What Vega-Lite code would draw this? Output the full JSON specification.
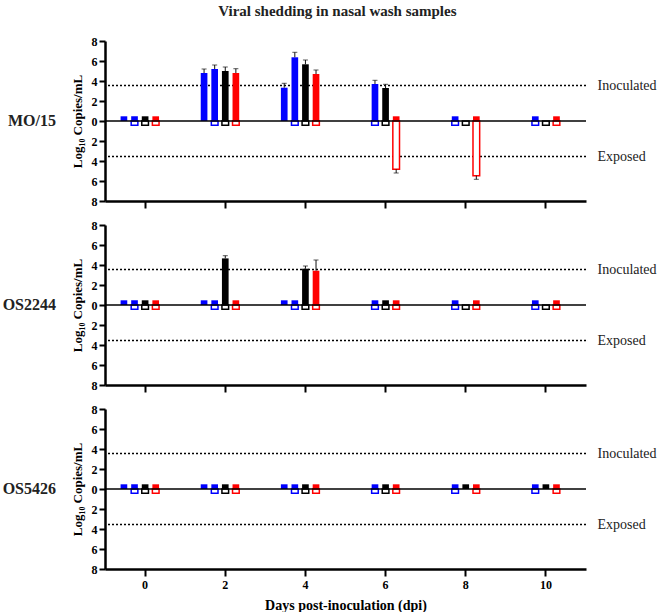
{
  "$schema": "https://vega.github.io/schema/vega-lite/v6.json",
  "padding": {"left": 2, "top": 4, "right": 0, "bottom": 0},
  "title": {"text": "Viral shedding in nasal wash samples", "font": "Liberation Serif", "fontSize": 15, "fontWeight": "bold", "anchor": "middle", "offset": 16, "dx": 8, "color": "#222"},
  "config": {
    "font": "Liberation Serif",
    "view": {"stroke": null},
    "axis": {"domainColor": "black", "domainWidth": 2.5, "tickColor": "black", "tickWidth": 2, "labelColor": "black", "labelFont": "Liberation Serif", "labelFontWeight": "bold", "labelFontSize": 12, "titleFont": "Liberation Serif", "titleFontWeight": "bold", "titleColor": "black", "grid": false},
    "title": {"font": "Liberation Serif"}
  },
  "spacing": 10,
  "datasets": {
    "d": [
      {"p":"MO/15","d":0,"s":"B1","t":"I","v":0.47},
      {"p":"MO/15","d":0,"s":"B2","t":"I","v":0.47},
      {"p":"MO/15","d":0,"s":"B2","t":"E","v":-0.42},
      {"p":"MO/15","d":0,"s":"K","t":"I","v":0.47},
      {"p":"MO/15","d":0,"s":"K","t":"E","v":-0.42},
      {"p":"MO/15","d":0,"s":"R","t":"I","v":0.47},
      {"p":"MO/15","d":0,"s":"R","t":"E","v":-0.42},
      {"p":"MO/15","d":2,"s":"B1","t":"I","v":4.8,"e":5.2},
      {"p":"MO/15","d":2,"s":"B2","t":"I","v":5.2,"e":5.6},
      {"p":"MO/15","d":2,"s":"B2","t":"E","v":-0.42},
      {"p":"MO/15","d":2,"s":"K","t":"I","v":5.0,"e":5.4},
      {"p":"MO/15","d":2,"s":"K","t":"E","v":-0.42},
      {"p":"MO/15","d":2,"s":"R","t":"I","v":4.8,"e":5.23},
      {"p":"MO/15","d":2,"s":"R","t":"E","v":-0.42},
      {"p":"MO/15","d":4,"s":"B1","t":"I","v":3.33,"e":3.77},
      {"p":"MO/15","d":4,"s":"B2","t":"I","v":6.37,"e":6.87},
      {"p":"MO/15","d":4,"s":"B2","t":"E","v":-0.42},
      {"p":"MO/15","d":4,"s":"K","t":"I","v":5.67,"e":6.1},
      {"p":"MO/15","d":4,"s":"K","t":"E","v":-0.42},
      {"p":"MO/15","d":4,"s":"R","t":"I","v":4.7,"e":5.1},
      {"p":"MO/15","d":4,"s":"R","t":"E","v":-0.42},
      {"p":"MO/15","d":6,"s":"B2","t":"I","v":3.7,"e":4.07},
      {"p":"MO/15","d":6,"s":"B2","t":"E","v":-0.42},
      {"p":"MO/15","d":6,"s":"K","t":"I","v":3.3,"e":3.67},
      {"p":"MO/15","d":6,"s":"K","t":"E","v":-0.42},
      {"p":"MO/15","d":6,"s":"R","t":"I","v":0.47},
      {"p":"MO/15","d":6,"s":"R","t":"E","v":-4.83,"e":-5.2},
      {"p":"MO/15","d":8,"s":"B2","t":"I","v":0.47},
      {"p":"MO/15","d":8,"s":"B2","t":"E","v":-0.42},
      {"p":"MO/15","d":8,"s":"K","t":"E","v":-0.42},
      {"p":"MO/15","d":8,"s":"R","t":"I","v":0.47},
      {"p":"MO/15","d":8,"s":"R","t":"E","v":-5.47,"e":-5.83},
      {"p":"MO/15","d":10,"s":"B2","t":"I","v":0.47},
      {"p":"MO/15","d":10,"s":"B2","t":"E","v":-0.42},
      {"p":"MO/15","d":10,"s":"K","t":"E","v":-0.42},
      {"p":"MO/15","d":10,"s":"R","t":"I","v":0.47},
      {"p":"MO/15","d":10,"s":"R","t":"E","v":-0.42},

      {"p":"OS2244","d":0,"s":"B1","t":"I","v":0.47},
      {"p":"OS2244","d":0,"s":"B2","t":"I","v":0.47},
      {"p":"OS2244","d":0,"s":"B2","t":"E","v":-0.42},
      {"p":"OS2244","d":0,"s":"K","t":"I","v":0.47},
      {"p":"OS2244","d":0,"s":"K","t":"E","v":-0.42},
      {"p":"OS2244","d":0,"s":"R","t":"I","v":0.47},
      {"p":"OS2244","d":0,"s":"R","t":"E","v":-0.42},
      {"p":"OS2244","d":2,"s":"B1","t":"I","v":0.47},
      {"p":"OS2244","d":2,"s":"B2","t":"I","v":0.47},
      {"p":"OS2244","d":2,"s":"B2","t":"E","v":-0.42},
      {"p":"OS2244","d":2,"s":"K","t":"I","v":4.66,"e":4.93},
      {"p":"OS2244","d":2,"s":"K","t":"E","v":-0.42},
      {"p":"OS2244","d":2,"s":"R","t":"I","v":0.47},
      {"p":"OS2244","d":2,"s":"R","t":"E","v":-0.42},
      {"p":"OS2244","d":4,"s":"B1","t":"I","v":0.47},
      {"p":"OS2244","d":4,"s":"B2","t":"I","v":0.47},
      {"p":"OS2244","d":4,"s":"B2","t":"E","v":-0.42},
      {"p":"OS2244","d":4,"s":"K","t":"I","v":3.63,"e":3.9},
      {"p":"OS2244","d":4,"s":"K","t":"E","v":-0.42},
      {"p":"OS2244","d":4,"s":"R","t":"I","v":3.43,"e":4.5},
      {"p":"OS2244","d":4,"s":"R","t":"E","v":-0.42},
      {"p":"OS2244","d":6,"s":"B2","t":"I","v":0.47},
      {"p":"OS2244","d":6,"s":"B2","t":"E","v":-0.42},
      {"p":"OS2244","d":6,"s":"K","t":"I","v":0.47},
      {"p":"OS2244","d":6,"s":"K","t":"E","v":-0.42},
      {"p":"OS2244","d":6,"s":"R","t":"I","v":0.47},
      {"p":"OS2244","d":6,"s":"R","t":"E","v":-0.42},
      {"p":"OS2244","d":8,"s":"B2","t":"I","v":0.47},
      {"p":"OS2244","d":8,"s":"B2","t":"E","v":-0.42},
      {"p":"OS2244","d":8,"s":"K","t":"E","v":-0.42},
      {"p":"OS2244","d":8,"s":"R","t":"I","v":0.47},
      {"p":"OS2244","d":8,"s":"R","t":"E","v":-0.42},
      {"p":"OS2244","d":10,"s":"B2","t":"I","v":0.47},
      {"p":"OS2244","d":10,"s":"B2","t":"E","v":-0.42},
      {"p":"OS2244","d":10,"s":"K","t":"E","v":-0.42},
      {"p":"OS2244","d":10,"s":"R","t":"I","v":0.47},
      {"p":"OS2244","d":10,"s":"R","t":"E","v":-0.42},

      {"p":"OS5426","d":0,"s":"B1","t":"I","v":0.47},
      {"p":"OS5426","d":0,"s":"B2","t":"I","v":0.47},
      {"p":"OS5426","d":0,"s":"B2","t":"E","v":-0.42},
      {"p":"OS5426","d":0,"s":"K","t":"I","v":0.47},
      {"p":"OS5426","d":0,"s":"K","t":"E","v":-0.42},
      {"p":"OS5426","d":0,"s":"R","t":"I","v":0.47},
      {"p":"OS5426","d":0,"s":"R","t":"E","v":-0.42},
      {"p":"OS5426","d":2,"s":"B1","t":"I","v":0.47},
      {"p":"OS5426","d":2,"s":"B2","t":"I","v":0.47},
      {"p":"OS5426","d":2,"s":"B2","t":"E","v":-0.42},
      {"p":"OS5426","d":2,"s":"K","t":"I","v":0.47},
      {"p":"OS5426","d":2,"s":"K","t":"E","v":-0.42},
      {"p":"OS5426","d":2,"s":"R","t":"I","v":0.47},
      {"p":"OS5426","d":2,"s":"R","t":"E","v":-0.42},
      {"p":"OS5426","d":4,"s":"B1","t":"I","v":0.47},
      {"p":"OS5426","d":4,"s":"B2","t":"I","v":0.47},
      {"p":"OS5426","d":4,"s":"B2","t":"E","v":-0.42},
      {"p":"OS5426","d":4,"s":"K","t":"I","v":0.47},
      {"p":"OS5426","d":4,"s":"K","t":"E","v":-0.42},
      {"p":"OS5426","d":4,"s":"R","t":"I","v":0.47},
      {"p":"OS5426","d":4,"s":"R","t":"E","v":-0.42},
      {"p":"OS5426","d":6,"s":"B2","t":"I","v":0.47},
      {"p":"OS5426","d":6,"s":"B2","t":"E","v":-0.42},
      {"p":"OS5426","d":6,"s":"K","t":"I","v":0.47},
      {"p":"OS5426","d":6,"s":"K","t":"E","v":-0.42},
      {"p":"OS5426","d":6,"s":"R","t":"I","v":0.47},
      {"p":"OS5426","d":6,"s":"R","t":"E","v":-0.42},
      {"p":"OS5426","d":8,"s":"B2","t":"I","v":0.47},
      {"p":"OS5426","d":8,"s":"B2","t":"E","v":-0.42},
      {"p":"OS5426","d":8,"s":"K","t":"I","v":0.47},
      {"p":"OS5426","d":8,"s":"R","t":"I","v":0.47},
      {"p":"OS5426","d":8,"s":"R","t":"E","v":-0.42},
      {"p":"OS5426","d":10,"s":"B2","t":"I","v":0.47},
      {"p":"OS5426","d":10,"s":"B2","t":"E","v":-0.42},
      {"p":"OS5426","d":10,"s":"K","t":"I","v":0.47},
      {"p":"OS5426","d":10,"s":"R","t":"I","v":0.47},
      {"p":"OS5426","d":10,"s":"R","t":"E","v":-0.42}
    ],
    "refs": [{"r": 3.56}, {"r": -3.56}],
    "zero": [{"z": 0}]
  },
  "vconcat": [
    {
      "width": 481, "height": 160,
      "title": {"text": "MO/15", "orient": "left", "angle": 0, "align": "left", "baseline": "middle", "anchor": "middle", "fontSize": 16, "fontWeight": "bold", "offset": 15, "color": "#222"},
      "resolve": {"axis": {"y": "independent"}},
      "layer": [
        {
          "data": {"name": "refs"},
          "mark": {"type": "rule", "strokeDash": [2, 2], "strokeWidth": 1.5, "color": "black"},
          "encoding": {
            "y": {"field": "r", "type": "quantitative", "scale": {"domain": [-8, 8], "nice": false, "zero": false},
              "axis": {"orient": "right", "values": [3.56, -3.56], "labelExpr": "datum.value > 0 ? 'Inoculated' : 'Exposed'", "domain": false, "ticks": false, "title": null, "labelFontWeight": "normal", "labelFontSize": 14, "labelPadding": 11, "labelColor": "#222"}}
          }
        },
        {
          "data": {"name": "d"},
          "transform": [{"filter": "datum.p == 'MO/15' && datum.t == 'I'"}],
          "mark": {"type": "bar"},
          "encoding": {
            "x": {"field": "d", "type": "ordinal", "scale": {"domain": [0, 2, 4, 6, 8, 10], "paddingInner": 0.339, "paddingOuter": 0.17}, "axis": {"labelAngle": 0, "tickSize": 7, "labels": false, "title": null}},
            "xOffset": {"field": "s", "type": "nominal", "scale": {"domain": ["B1", "B2", "K", "R", "X"], "paddingInner": 0.37, "paddingOuter": 0.185}},
            "y": {"field": "v", "type": "quantitative", "scale": {"domain": [-8, 8], "nice": false},
              "axis": {"values": [-8, -6, -4, -2, 0, 2, 4, 6, 8], "labelExpr": "abs(datum.value)", "tickSize": 6, "title": "Log₁₀ Copies/mL", "titleFontSize": 13, "titlePadding": 7, "labelPadding": 2}},
            "color": {"field": "s", "type": "nominal", "scale": {"domain": ["B1", "B2", "K", "R"], "range": ["#0000ff", "#0000ff", "#000000", "#ff0000"]}, "legend": null}
          }
        },
        {
          "data": {"name": "d"},
          "transform": [{"filter": "datum.p == 'MO/15' && datum.t == 'E'"}],
          "mark": {"type": "bar", "fill": "white", "strokeWidth": 1.5},
          "encoding": {
            "x": {"field": "d", "type": "ordinal"},
            "xOffset": {"field": "s", "type": "nominal"},
            "y": {"field": "v", "type": "quantitative", "axis": null},
            "stroke": {"field": "s", "type": "nominal", "scale": {"domain": ["B1", "B2", "K", "R"], "range": ["#0000ff", "#0000ff", "#000000", "#ff0000"]}, "legend": null}
          }
        },
        {
          "data": {"name": "d"},
          "transform": [{"filter": "datum.p == 'MO/15' && isValid(datum.e)"}],
          "mark": {"type": "rule", "color": "#111", "strokeWidth": 1},
          "encoding": {
            "x": {"field": "d", "type": "ordinal"},
            "xOffset": {"field": "s", "type": "nominal"},
            "y": {"field": "v", "type": "quantitative", "axis": null},
            "y2": {"field": "e"}
          }
        },
        {
          "data": {"name": "d"},
          "transform": [{"filter": "datum.p == 'MO/15' && isValid(datum.e)"}],
          "mark": {"type": "tick", "color": "#111", "size": 5, "thickness": 1},
          "encoding": {
            "x": {"field": "d", "type": "ordinal"},
            "xOffset": {"field": "s", "type": "nominal"},
            "y": {"field": "e", "type": "quantitative", "axis": null}
          }
        },
        {
          "data": {"name": "zero"},
          "mark": {"type": "rule", "color": "black", "strokeWidth": 1.5},
          "encoding": {"y": {"field": "z", "type": "quantitative", "axis": null}}
        }
      ]
    },
    {
      "width": 481, "height": 160,
      "title": {"text": "OS2244", "orient": "left", "angle": 0, "align": "left", "baseline": "middle", "anchor": "middle", "fontSize": 16, "fontWeight": "bold", "offset": 15, "color": "#222"},
      "resolve": {"axis": {"y": "independent"}},
      "layer": [
        {
          "data": {"name": "refs"},
          "mark": {"type": "rule", "strokeDash": [2, 2], "strokeWidth": 1.5, "color": "black"},
          "encoding": {
            "y": {"field": "r", "type": "quantitative", "scale": {"domain": [-8, 8], "nice": false, "zero": false},
              "axis": {"orient": "right", "values": [3.56, -3.56], "labelExpr": "datum.value > 0 ? 'Inoculated' : 'Exposed'", "domain": false, "ticks": false, "title": null, "labelFontWeight": "normal", "labelFontSize": 14, "labelPadding": 11, "labelColor": "#222"}}
          }
        },
        {
          "data": {"name": "d"},
          "transform": [{"filter": "datum.p == 'OS2244' && datum.t == 'I'"}],
          "mark": {"type": "bar"},
          "encoding": {
            "x": {"field": "d", "type": "ordinal", "scale": {"domain": [0, 2, 4, 6, 8, 10], "paddingInner": 0.339, "paddingOuter": 0.17}, "axis": {"labelAngle": 0, "tickSize": 7, "labels": false, "title": null}},
            "xOffset": {"field": "s", "type": "nominal", "scale": {"domain": ["B1", "B2", "K", "R", "X"], "paddingInner": 0.37, "paddingOuter": 0.185}},
            "y": {"field": "v", "type": "quantitative", "scale": {"domain": [-8, 8], "nice": false},
              "axis": {"values": [-8, -6, -4, -2, 0, 2, 4, 6, 8], "labelExpr": "abs(datum.value)", "tickSize": 6, "title": "Log₁₀ Copies/mL", "titleFontSize": 13, "titlePadding": 7, "labelPadding": 2}},
            "color": {"field": "s", "type": "nominal", "scale": {"domain": ["B1", "B2", "K", "R"], "range": ["#0000ff", "#0000ff", "#000000", "#ff0000"]}, "legend": null}
          }
        },
        {
          "data": {"name": "d"},
          "transform": [{"filter": "datum.p == 'OS2244' && datum.t == 'E'"}],
          "mark": {"type": "bar", "fill": "white", "strokeWidth": 1.5},
          "encoding": {
            "x": {"field": "d", "type": "ordinal"},
            "xOffset": {"field": "s", "type": "nominal"},
            "y": {"field": "v", "type": "quantitative", "axis": null},
            "stroke": {"field": "s", "type": "nominal", "scale": {"domain": ["B1", "B2", "K", "R"], "range": ["#0000ff", "#0000ff", "#000000", "#ff0000"]}, "legend": null}
          }
        },
        {
          "data": {"name": "d"},
          "transform": [{"filter": "datum.p == 'OS2244' && isValid(datum.e)"}],
          "mark": {"type": "rule", "color": "#111", "strokeWidth": 1},
          "encoding": {
            "x": {"field": "d", "type": "ordinal"},
            "xOffset": {"field": "s", "type": "nominal"},
            "y": {"field": "v", "type": "quantitative", "axis": null},
            "y2": {"field": "e"}
          }
        },
        {
          "data": {"name": "d"},
          "transform": [{"filter": "datum.p == 'OS2244' && isValid(datum.e)"}],
          "mark": {"type": "tick", "color": "#111", "size": 5, "thickness": 1},
          "encoding": {
            "x": {"field": "d", "type": "ordinal"},
            "xOffset": {"field": "s", "type": "nominal"},
            "y": {"field": "e", "type": "quantitative", "axis": null}
          }
        },
        {
          "data": {"name": "zero"},
          "mark": {"type": "rule", "color": "black", "strokeWidth": 1.5},
          "encoding": {"y": {"field": "z", "type": "quantitative", "axis": null}}
        }
      ]
    },
    {
      "width": 481, "height": 160,
      "title": {"text": "OS5426", "orient": "left", "angle": 0, "align": "left", "baseline": "middle", "anchor": "middle", "fontSize": 16, "fontWeight": "bold", "offset": 15, "color": "#222"},
      "resolve": {"axis": {"y": "independent"}},
      "layer": [
        {
          "data": {"name": "refs"},
          "mark": {"type": "rule", "strokeDash": [2, 2], "strokeWidth": 1.5, "color": "black"},
          "encoding": {
            "y": {"field": "r", "type": "quantitative", "scale": {"domain": [-8, 8], "nice": false, "zero": false},
              "axis": {"orient": "right", "values": [3.56, -3.56], "labelExpr": "datum.value > 0 ? 'Inoculated' : 'Exposed'", "domain": false, "ticks": false, "title": null, "labelFontWeight": "normal", "labelFontSize": 14, "labelPadding": 11, "labelColor": "#222"}}
          }
        },
        {
          "data": {"name": "d"},
          "transform": [{"filter": "datum.p == 'OS5426' && datum.t == 'I'"}],
          "mark": {"type": "bar"},
          "encoding": {
            "x": {"field": "d", "type": "ordinal", "scale": {"domain": [0, 2, 4, 6, 8, 10], "paddingInner": 0.339, "paddingOuter": 0.17}, "axis": {"labelAngle": 0, "tickSize": 7, "title": "Days post-inoculation (dpi)", "titleFontSize": 14, "labelPadding": 3, "titlePadding": 8}},
            "xOffset": {"field": "s", "type": "nominal", "scale": {"domain": ["B1", "B2", "K", "R", "X"], "paddingInner": 0.37, "paddingOuter": 0.185}},
            "y": {"field": "v", "type": "quantitative", "scale": {"domain": [-8, 8], "nice": false},
              "axis": {"values": [-8, -6, -4, -2, 0, 2, 4, 6, 8], "labelExpr": "abs(datum.value)", "tickSize": 6, "title": "Log₁₀ Copies/mL", "titleFontSize": 13, "titlePadding": 7, "labelPadding": 2}},
            "color": {"field": "s", "type": "nominal", "scale": {"domain": ["B1", "B2", "K", "R"], "range": ["#0000ff", "#0000ff", "#000000", "#ff0000"]}, "legend": null}
          }
        },
        {
          "data": {"name": "d"},
          "transform": [{"filter": "datum.p == 'OS5426' && datum.t == 'E'"}],
          "mark": {"type": "bar", "fill": "white", "strokeWidth": 1.5},
          "encoding": {
            "x": {"field": "d", "type": "ordinal"},
            "xOffset": {"field": "s", "type": "nominal"},
            "y": {"field": "v", "type": "quantitative", "axis": null},
            "stroke": {"field": "s", "type": "nominal", "scale": {"domain": ["B1", "B2", "K", "R"], "range": ["#0000ff", "#0000ff", "#000000", "#ff0000"]}, "legend": null}
          }
        },
        {
          "data": {"name": "zero"},
          "mark": {"type": "rule", "color": "black", "strokeWidth": 1.5},
          "encoding": {"y": {"field": "z", "type": "quantitative", "axis": null}}
        }
      ]
    }
  ]
}
